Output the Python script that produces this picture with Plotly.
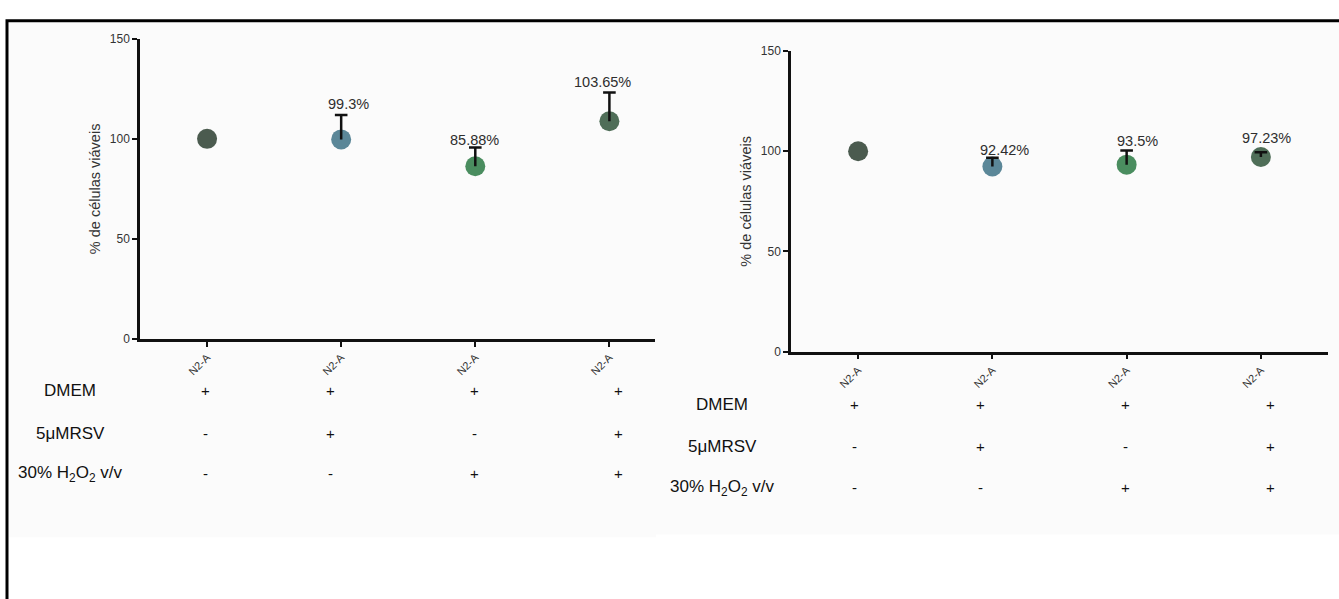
import plotly.graph_objects as go

# ---------------- data ----------------
categories = ["N2-A", "N2-A", "N2-A", "N2-A"]
left_means = [100.0, 99.7, 86.3, 108.8]
left_err = [None, 12.2, 9.4, 14.3]
left_labels = ["", "99.3%", "85.88%", "103.65%"]

right_means = [100.0, 92.4, 93.3, 97.1]
right_err = [None, 4.4, 7.0, 2.4]
right_labels = ["", "92.42%", "93.5%", "97.23%"]

point_colors = ["#4b5b4f", "#5b8798", "#4a8d5f", "#4f6e58"]

row_names = ["DMEM", "5\u03bcMRSV", "30% H<sub>2</sub>O<sub>2</sub> v/v"]
row_signs = [
    ["+", "+", "+", "+"],
    ["-", "+", "-", "+"],
    ["-", "-", "+", "+"],
]
y_ticks = [0, 50, 100, 150]

# ---------------- layout helpers ----------------
W, H = 1339, 599


def px_x(p):
    return p / W


def px_y(p):
    return 1 - p / H


FONT = "Liberation Sans, Arial, sans-serif"
xs = list(range(len(categories)))

fig = go.Figure()

panels = [
    dict(means=left_means, err=left_err, labels=left_labels, xa="x", ya="y",
         label_dx=[0, 7, -1, -7], label_dy=[0, 11, 7, 11]),
    dict(means=right_means, err=right_err, labels=right_labels, xa="x2", ya="y2",
         label_dx=[0, 12, 11, 6], label_dy=[0, 8, 10, 14]),
]

annotations = []
for p in panels:
    # markers
    fig.add_trace(go.Scatter(
        x=xs, y=p["means"], mode="markers", xaxis=p["xa"], yaxis=p["ya"],
        marker=dict(size=20, color=point_colors, line=dict(width=0)),
        showlegend=False, hoverinfo="skip"))
    # upper error bars (stem from mean to mean+err, drawn over the marker)
    bx, by, cx, cy = [], [], [], []
    for i, (m, e) in enumerate(zip(p["means"], p["err"])):
        if e is None:
            continue
        bx += [xs[i], xs[i], None]
        by += [m, m + e, None]
        cx.append(xs[i])
        cy.append(m + e)
    fig.add_trace(go.Scatter(
        x=bx, y=by, mode="lines", xaxis=p["xa"], yaxis=p["ya"],
        line=dict(color="#111", width=2.5), showlegend=False, hoverinfo="skip"))
    fig.add_trace(go.Scatter(
        x=cx, y=cy, mode="markers", xaxis=p["xa"], yaxis=p["ya"],
        marker=dict(symbol="line-ew", size=9, color="#111",
                    line=dict(color="#111", width=2.5)),
        showlegend=False, hoverinfo="skip"))
    for i, lab in enumerate(p["labels"]):
        if not lab:
            continue
        annotations.append(dict(
            x=xs[i], y=p["means"][i] + (p["err"][i] or 0),
            xref=p["xa"], yref=p["ya"], text=lab, showarrow=False,
            xanchor="center", yanchor="middle",
            xshift=p["label_dx"][i], yshift=p["label_dy"][i],
            font=dict(family=FONT, size=14.5, color="#2e2e2e")))

# table rows under the charts
tables = [
    dict(xa="x", row_px=[393, 437, 478], name_x=70, dx=[-2, -11, -1, 9]),
    dict(xa="x2", row_px=[407, 450, 492], name_x=722, dx=[-4, -12, -1, 10]),
]
for t in tables:
    for r, name in enumerate(row_names):
        annotations.append(dict(
            x=px_x(t["name_x"]), y=px_y(t["row_px"][r]), xref="paper", yref="paper",
            text=name, showarrow=False, xanchor="center", yanchor="middle",
            font=dict(family=FONT, size=17, color="#111")))
        for c, s in enumerate(row_signs[r]):
            annotations.append(dict(
                x=xs[c], y=px_y(t["row_px"][r]), xref=t["xa"], yref="paper",
                text=s, showarrow=False, xanchor="center", yanchor="middle",
                xshift=t["dx"][c],
                font=dict(family=FONT, size=15, color="#111")))

axis_common = dict(
    showline=True, linecolor="#111", linewidth=2.5, ticks="outside", ticklen=5,
    tickwidth=1.8, tickcolor="#111", showgrid=False, zeroline=False,
    tickfont=dict(family=FONT, size=12, color="#333"),
)
title_font = dict(family=FONT, size=14.5, color="#333")
xtick_font = dict(family=FONT, size=11, color="#333")

fig.update_layout(
    width=W, height=H, margin=dict(l=0, r=0, t=0, b=0),
    paper_bgcolor="white", plot_bgcolor="rgba(0,0,0,0)",
    xaxis=dict(axis_common, domain=[px_x(140), px_x(655)], range=[-0.5, 3.34],
               tickvals=xs, ticktext=categories, tickangle=-45, anchor="y",
               tickfont=xtick_font),
    yaxis=dict(axis_common, domain=[px_y(340), px_y(32.5)], range=[0, 150],
               tickvals=y_ticks, anchor="x",
               title=dict(text="% de células viáveis", standoff=6, font=title_font)),
    xaxis2=dict(axis_common, domain=[px_x(791), px_x(1328)], range=[-0.5, 3.5],
                tickvals=xs, ticktext=categories, tickangle=-45, anchor="y2",
                tickfont=xtick_font),
    yaxis2=dict(axis_common, domain=[px_y(353), px_y(45)], range=[0, 150],
                tickvals=y_ticks, anchor="x2",
                title=dict(text="% de células viáveis", standoff=6, font=title_font)),
    annotations=annotations,
    shapes=[
        dict(type="rect", xref="paper", yref="paper", layer="below",
             x0=px_x(9), x1=px_x(656), y0=px_y(543), y1=px_y(16),
             fillcolor="#fbfbfb", line=dict(width=0)),
        dict(type="rect", xref="paper", yref="paper", layer="below",
             x0=px_x(656), x1=px_x(1339), y0=px_y(540), y1=px_y(16),
             fillcolor="#fbfbfb", line=dict(width=0)),
        dict(type="rect", xref="paper", yref="paper",
             x0=px_x(7), x1=px_x(1345), y0=px_y(610), y1=px_y(14),
             line=dict(color="black", width=3), fillcolor="rgba(0,0,0,0)"),
    ],
)

fig.write_html("out.html")
